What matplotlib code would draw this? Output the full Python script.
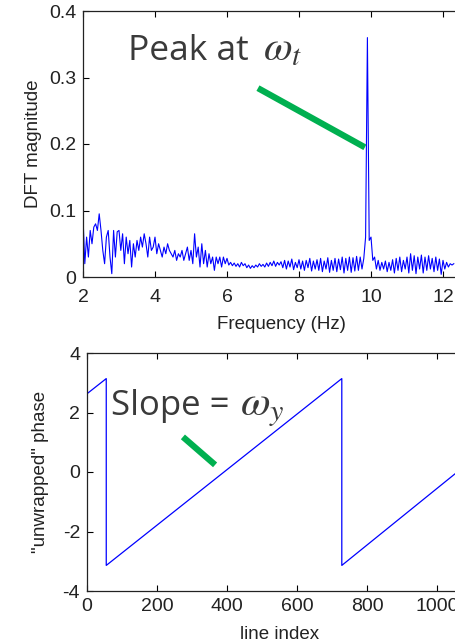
import numpy as np
import matplotlib
matplotlib.use("Agg")
import matplotlib.pyplot as plt

plt.rcParams['mathtext.fontset'] = 'stix'
plt.rcParams['axes.unicode_minus'] = False

# ---- data: DFT magnitude spectrum ----
freq_start = 2.0
freq_step = 0.05
dft_mag = [
    0.09, 0.02, 0.06, 0.03, 0.07, 0.05, 0.075, 0.08, 0.07, 0.095,
    0.07, 0.04, 0.02, 0.06, 0.07, 0.03, 0.005, 0.07, 0.03, 0.068,
    0.07, 0.04, 0.065, 0.02, 0.06, 0.035, 0.055, 0.015, 0.05, 0.03,
    0.055, 0.04, 0.06, 0.045, 0.065, 0.05, 0.03, 0.06, 0.04, 0.045,
    0.06, 0.035, 0.05, 0.04, 0.03, 0.045, 0.035, 0.05, 0.04, 0.035,
    0.03, 0.04, 0.025, 0.035, 0.03, 0.04, 0.025, 0.035, 0.045, 0.025,
    0.04, 0.02, 0.065, 0.03, 0.045, 0.015, 0.05, 0.02, 0.04, 0.015,
    0.035, 0.02, 0.03, 0.01, 0.03, 0.02, 0.03, 0.015, 0.03, 0.02,
    0.028, 0.018, 0.022, 0.017, 0.021, 0.016, 0.02, 0.015, 0.022, 0.017,
    0.02, 0.014, 0.018, 0.013, 0.017, 0.014, 0.018, 0.015, 0.02, 0.016,
    0.019, 0.015, 0.021, 0.016, 0.022, 0.017, 0.024, 0.016, 0.022, 0.018,
    0.023, 0.014, 0.025, 0.012, 0.024, 0.015, 0.027, 0.011, 0.022, 0.014,
    0.026, 0.012, 0.024, 0.01, 0.025, 0.014, 0.028, 0.009, 0.024, 0.012,
    0.026, 0.01, 0.028, 0.008, 0.024, 0.012, 0.029, 0.007, 0.025, 0.01,
    0.028, 0.008, 0.027, 0.011, 0.03, 0.006, 0.028, 0.01, 0.03, 0.007,
    0.029, 0.009, 0.031, 0.01, 0.03, 0.012, 0.028, 0.06, 0.36, 0.055,
    0.06, 0.025, 0.03, 0.012, 0.025, 0.01, 0.022, 0.012, 0.024, 0.008,
    0.022, 0.01, 0.026, 0.006, 0.028, 0.01, 0.03, 0.008, 0.025, 0.012,
    0.03, 0.006, 0.035, 0.01, 0.032, 0.005, 0.03, 0.012, 0.033, 0.006,
    0.03, 0.01, 0.032, 0.012, 0.028, 0.008, 0.03, 0.01, 0.027, 0.004,
    0.025, 0.012, 0.022, 0.015, 0.02, 0.018, 0.02,
]
freq = freq_start + freq_step * np.arange(len(dft_mag))

# ---- data: unwrapped phase vs line index ----
line_index = [0, 55, 55, 728, 728, 1100]
phase = [2.63, 3.14, -3.14, 3.14, -3.14, 0.4]

top_xticks = [2, 4, 6, 8, 10, 12]
top_yticks = [0, 0.1, 0.2, 0.3, 0.4]
top_yticklabels = ['0', '0.1', '0.2', '0.3', '0.4']
bot_xticks = [0, 200, 400, 600, 800, 1000]
bot_yticks = [-4, -2, 0, 2, 4]

W, H = 455, 644
fig = plt.figure(figsize=(W / 100, H / 100), dpi=100)

axfont = dict(family=['Liberation Sans', 'DejaVu Sans'])
tick_fs = 14
label_fs = 13.5
ann_color = '#3a3a3a'
green = '#00b050'

def style(ax, xpad, ypad):
    ax.tick_params(direction='in', length=4, width=0.8, top=True, right=True,
                   labelsize=tick_fs)
    ax.tick_params(axis='x', pad=xpad)
    ax.tick_params(axis='y', pad=ypad)
    for lab in ax.get_xticklabels() + ax.get_yticklabels():
        lab.set_family(['Liberation Sans', 'DejaVu Sans'])
        lab.set_color('#222222')
    for s in ax.spines.values():
        s.set_linewidth(0.9)
        s.set_color('#222222')

# top axes
ax1 = fig.add_axes([83 / W, 1 - 277 / H, 396 / W, 266 / H])
ax1.plot(freq, dft_mag, color='#0000ff', lw=0.8)
ax1.set_xlim(2, 13)
ax1.set_ylim(0, 0.4)
ax1.set_xticks(top_xticks)
ax1.set_yticks(top_yticks)
ax1.set_yticklabels(top_yticklabels)
ax1.set_xlabel('Frequency (Hz)', fontsize=label_fs, labelpad=7, color='#222222', **axfont)
ax1.set_ylabel('DFT magnitude', fontsize=label_fs, labelpad=5, color='#222222', **axfont)
style(ax1, 9, 5)
ax1.plot([6.86, 9.83], [0.284, 0.195], color=green, lw=4.5,
         solid_capstyle='butt', clip_on=False)
ax1.text(3.25, 0.326, 'Peak at', fontsize=25.5, color=ann_color,
         family=['Open Sans', 'DejaVu Sans'], ha='left', va='baseline')
ax1.text(7.0, 0.326, r'$\omega_t$', fontsize=30, color=ann_color,
         ha='left', va='baseline')

# bottom axes
ax2 = fig.add_axes([87 / W, 1 - 591 / H, 385 / W, 238 / H])
ax2.plot(line_index, phase, color='#0000ff', lw=0.9)
ax2.set_xlim(0, 1100)
ax2.set_ylim(-4, 4)
ax2.set_xticks(bot_xticks)
ax2.set_yticks(bot_yticks)
ax2.set_xlabel('line index', fontsize=label_fs, labelpad=8, color='#222222', **axfont)
ax2.set_ylabel('"unwrapped" phase', fontsize=label_fs, labelpad=10, color='#222222', **axfont)
style(ax2, 5, 5)
ax2.plot([274, 366], [1.18, 0.24], color=green, lw=4.5,
         solid_capstyle='butt', clip_on=False)
ax2.text(69, 1.92, 'Slope =', fontsize=25, color=ann_color,
         family=['Open Sans', 'DejaVu Sans'], ha='left', va='baseline')
ax2.text(437, 1.92, r'$\omega_y$', fontsize=31, color=ann_color,
         ha='left', va='baseline')

fig.savefig('out.png', dpi=100)
